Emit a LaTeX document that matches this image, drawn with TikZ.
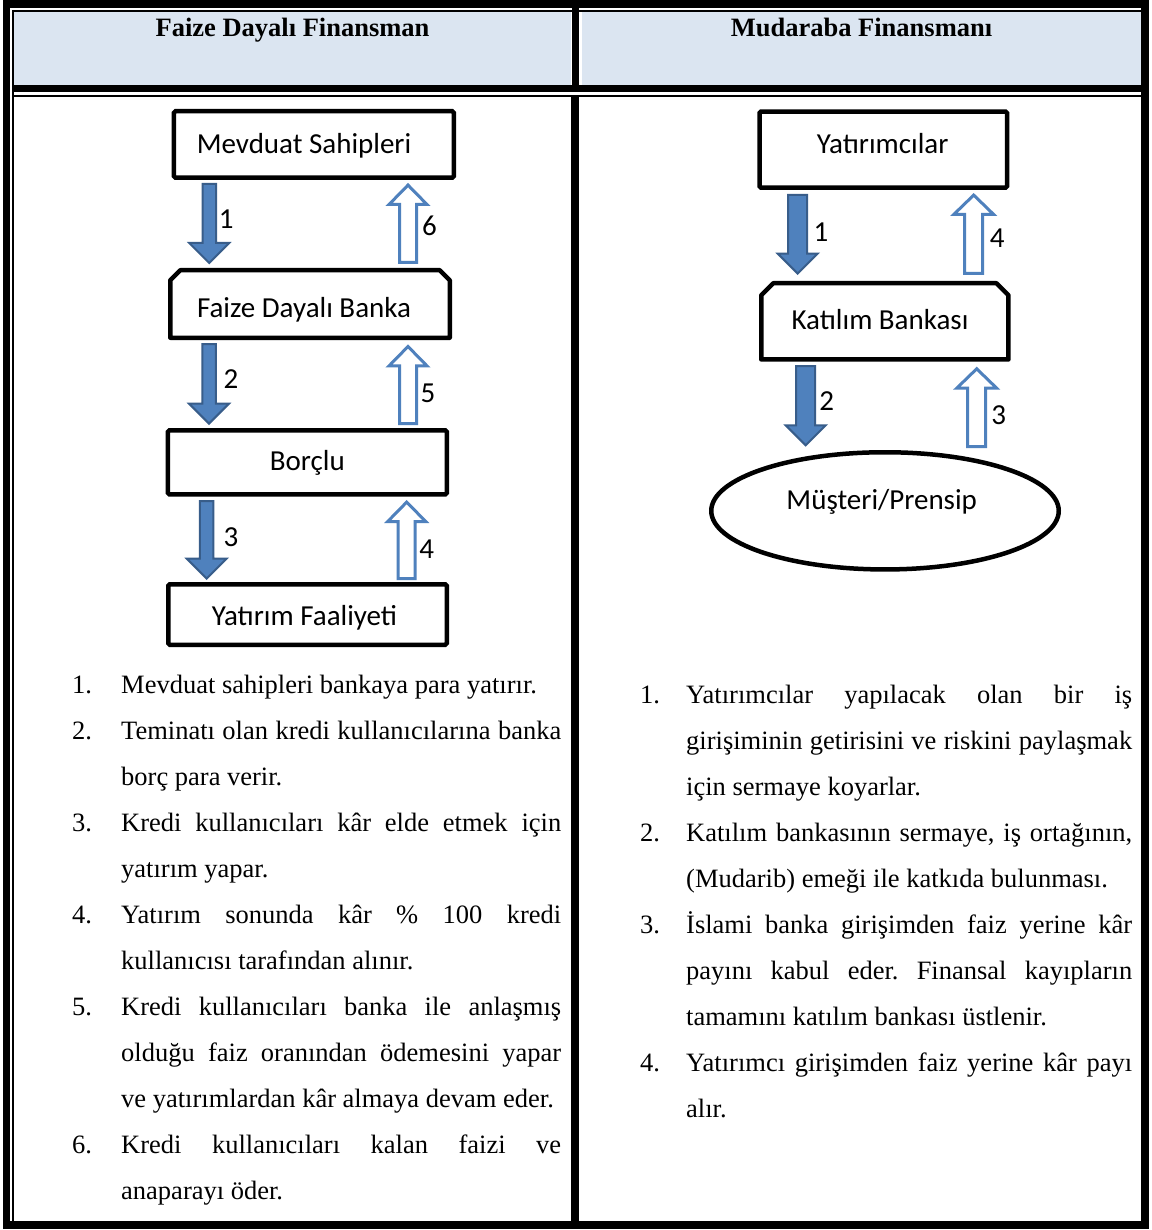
\documentclass[tikz,border=0pt]{standalone}
\usepackage{fontspec}
\setmainfont{Liberation Serif}
\newfontfamily\carlito{Carlito}
\usetikzlibrary{calc,shapes.geometric}
\frenchspacing

\definecolor{hdrblue}{HTML}{DBE5F1}
\definecolor{arrfill}{HTML}{4F81BD}
\definecolor{arredge}{HTML}{385D8A}

% block arrow pointing down: #1 style, #2 x, #3 upper anchor, #4 lower anchor, #5/#6 gaps
\newcommand\arrdown[6]{%
  \path[#1] ($(#2,0 |- #3)+(-\arrSH,#5)$) -- ($(#2,0 |- #3)+(\arrSH,#5)$)
    -- ($(#2,0 |- #4)+(\arrSH,-#6-\arrHL)$) -- ($(#2,0 |- #4)+(\arrHH,-#6-\arrHL)$)
    -- ($(#2,0 |- #4)+(0,-#6)$) -- ($(#2,0 |- #4)+(-\arrHH,-#6-\arrHL)$)
    -- ($(#2,0 |- #4)+(-\arrSH,-#6-\arrHL)$) -- cycle;}
% block arrow pointing up
\newcommand\arrup[6]{%
  \path[#1] ($(#2,0 |- #3)+(0,#5)$) -- ($(#2,0 |- #3)+(\arrHH,#5+\arrHL)$)
    -- ($(#2,0 |- #3)+(\arrSH,#5+\arrHL)$) -- ($(#2,0 |- #4)+(\arrSH,-#6)$)
    -- ($(#2,0 |- #4)+(-\arrSH,-#6)$) -- ($(#2,0 |- #3)+(-\arrSH,#5+\arrHL)$)
    -- ($(#2,0 |- #3)+(-\arrHH,#5+\arrHL)$) -- cycle;}
% outline of a box whose two top corners are cut off: #1 node, #2 cut size
\newcommand\snipbox[2]{%
  \draw[boxline] ($(#1.south west)+(2.25,-2.25)$) -- ($(#1.north west)+(2.25,2.25+#2)$)
    -- ($(#1.north west)+(2.25+#2,2.25)$) -- ($(#1.north east)+(-2.25-#2,2.25)$)
    -- ($(#1.north east)+(-2.25,2.25+#2)$) -- ($(#1.south east)+(-2.25,-2.25)$) -- cycle;}

\begin{document}
\begin{tikzpicture}[x=1pt,y=-1pt,
  box/.style={draw=black, line width=4.5pt, fill=white, inner sep=0pt, rounded corners=1.5pt},
  bank/.style={line width=4.5pt, inner sep=0pt},
  boxline/.style={draw=black, line width=4.5pt, line join=round},
  oval/.style={ellipse, draw=black, line width=4.5pt, fill=white, inner sep=0pt},
  boxtxt/.style={font=\carlito\fontsize{29}{29}\selectfont, inner sep=0pt, text height=18.7pt, text depth=0pt},
  numlbl/.style={boxtxt},
  dnarr/.style={fill=arrfill, draw=arredge, line width=2pt, line join=miter},
  uparr/.style={fill=white, draw=arrfill, line width=3pt, line join=miter},
  hdr/.style={font=\fontsize{26.5}{26.5}\selectfont\bfseries, inner sep=0pt, anchor=base},
  txt/.style={font=\fontsize{26.5}{26.5}\selectfont, inner sep=0pt, anchor=base west},
]
\useasboundingbox (0,0) rectangle (1151,1230);
\fill[white] (0,0) rectangle (1151,1230);

% ---- table frame ----
\fill[hdrblue] (14,12) rectangle (571,85);
\fill[hdrblue] (582,12) rectangle (1141,85);
\fill[black] (3,0) rectangle (1149,8);
\fill[black] (12,10) rectangle (1141,12);
\fill[black] (3,0) rectangle (10,1229);
\fill[black] (12,10) rectangle (14,1221);
\fill[black] (1141,0) rectangle (1149,1229);
\fill[black] (3,1221) rectangle (1149,1229);
\fill[black] (12,85) rectangle (1141,92);
\fill[black] (12,95) rectangle (1141,97);
\fill[black] (572,8) rectangle (579,92);
\fill[black] (571,95) rectangle (579,1221);

% ---- headers ----
\node[hdr] (h1) at (292.5,36.5) {Faize Dayalı Finansman};
\node[hdr] (h2) at (861.5,36.5) {Mudaraba Finansmanı};

% ---- interest-based financing ----
\node[box, minimum width=279.8pt, minimum height=66.5pt,
  label={[boxtxt, xshift=-9.8pt, yshift=0.3pt]center:Mevduat Sahipleri}] (ms) at (313.85,144.5) {};
\node[bank, minimum width=279.5pt, minimum height=67.5pt,
  label={[boxtxt, xshift=-6pt, yshift=-4.3pt]center:Faize Dayalı Banka}] (fb) at (310,304) {};
\snipbox{fb}{10}
\node[box, minimum width=278.8pt, minimum height=64.2pt,
  label={[boxtxt, xshift=0pt, yshift=1.5pt]center:Borçlu}] (bo) at (307.35,462.35) {};
\node[box, minimum width=278.5pt, minimum height=60.5pt,
  label={[boxtxt, xshift=-3pt, yshift=-1.3pt]center:Yatırım Faaliyeti}] (yf) at (307.5,614.5) {};

\def\arrSH{6.75}\def\arrHH{20}\def\arrHL{20}
\arrdown{dnarr}{209.3}{ms.south}{fb.north}{4}{5}
\arrdown{dnarr}{209}{fb.south}{bo.north}{4}{4.4}
\arrdown{dnarr}{206.7}{bo.south}{yf.north}{4.3}{3.4}
\def\arrSH{8.5}\def\arrHH{19}\def\arrHL{19.4}
\arrup{uparr}{408}{ms.south}{fb.north}{5.1}{5.5}
\arrup{uparr}{408}{fb.south}{bo.north}{6.5}{4.5}
\arrup{uparr}{406.7}{bo.south}{yf.north}{5.4}{3.5}

\node[numlbl] (la1) at (226.3,219) {1};
\node[numlbl] (la6) at (429.5,226.5) {6};
\node[numlbl] (la2) at (231,379) {2};
\node[numlbl] (la5) at (428,393) {5};
\node[numlbl] (la3) at (231,536.7) {3};
\node[numlbl] (la4) at (426.7,549) {4};

% ---- mudaraba financing ----
\node[box, minimum width=247.5pt, minimum height=76.2pt,
  label={[boxtxt, xshift=-0.6pt, yshift=5.9pt]center:Yatırımcılar}] (ya) at (883.3,149.65) {};
\node[bank, minimum width=247.2pt, minimum height=76.2pt,
  label={[boxtxt, xshift=-4.85pt, yshift=0.85pt]center:Katılım Bankası}] (kb) at (884.85,321.35) {};
\snipbox{kb}{12}
\node[oval, minimum width=347.5pt, minimum height=117.2pt,
  label={[boxtxt, xshift=-3.3pt, yshift=10.4pt]center:Müşteri/Prensip}] (mp) at (885,510.85) {};

\def\arrSH{9.5}\def\arrHH{20}\def\arrHL{20}
\arrdown{dnarr}{797.7}{ya.south}{kb.north}{5}{7.4}
\arrdown{dnarr}{805.7}{kb.south}{mp.north}{4.3}{4.7}
\def\arrSH{9}\def\arrHH{20}\def\arrHL{19.4}
\arrup{uparr}{973.7}{ya.south}{kb.north}{5.1}{7.5}
\arrup{uparr}{976.7}{kb.south}{mp.north}{7.1}{3.5}

\node[numlbl] (lb1) at (821,231.7) {1};
\node[numlbl] (lb4) at (997.3,238.3) {4};
\node[numlbl] (lb2) at (826.7,401) {2};
\node[numlbl] (lb3) at (998.8,415) {3};

% ---- left list ----
\node[txt] (ln1) at (72,693) {1.};
\node[txt] (lt1a) at (121,693) {Mevduat sahipleri bankaya para yatırır.};
\node[txt] (ln2) at (72,739) {2.};
\node[txt] (lt2a) at (121,739) {\makebox[440pt][s]{Teminatı olan kredi kullanıcılarına banka}};
\node[txt] (lt2b) at (121,785) {borç para verir.};
\node[txt] (ln3) at (72,831) {3.};
\node[txt] (lt3a) at (121,831) {\makebox[440pt][s]{Kredi kullanıcıları kâr elde etmek için}};
\node[txt] (lt3b) at (121,877) {yatırım yapar.};
\node[txt] (ln4) at (72,923) {4.};
\node[txt] (lt4a) at (121,923) {\makebox[440pt][s]{Yatırım sonunda kâr \% 100 kredi}};
\node[txt] (lt4b) at (121,969) {kullanıcısı tarafından alınır.};
\node[txt] (ln5) at (72,1015) {5.};
\node[txt] (lt5a) at (121,1015) {\makebox[440pt][s]{Kredi kullanıcıları banka ile anlaşmış}};
\node[txt] (lt5b) at (121,1061) {\makebox[440pt][s]{olduğu faiz oranından ödemesini yapar}};
\node[txt] (lt5c) at (121,1107) {ve yatırımlardan kâr almaya devam eder.};
\node[txt] (ln6) at (72,1153) {6.};
\node[txt] (lt6a) at (121,1153) {\makebox[440pt][s]{Kredi kullanıcıları kalan faizi ve}};
\node[txt] (lt6b) at (121,1199) {anaparayı öder.};

% ---- right list ----
\node[txt] (rn1) at (640,703) {1.};
\node[txt] (rt1a) at (686,703) {\makebox[446pt][s]{Yatırımcılar yapılacak olan bir iş}};
\node[txt] (rt1b) at (686,749) {\makebox[446pt][s]{girişiminin getirisini ve riskini paylaşmak}};
\node[txt] (rt1c) at (686,795) {için sermaye koyarlar.};
\node[txt] (rn2) at (640,841) {2.};
\node[txt] (rt2a) at (686,841) {\makebox[446pt][s]{Katılım bankasının sermaye, iş ortağının,}};
\node[txt] (rt2b) at (686,887) {(Mudarib) emeği ile katkıda bulunması.};
\node[txt] (rn3) at (640,933) {3.};
\node[txt] (rt3a) at (686,933) {\makebox[446pt][s]{İslami banka girişimden faiz yerine kâr}};
\node[txt] (rt3b) at (686,979) {\makebox[446pt][s]{payını kabul eder. Finansal kayıpların}};
\node[txt] (rt3c) at (686,1025) {tamamını katılım bankası üstlenir.};
\node[txt] (rn4) at (640,1071) {4.};
\node[txt] (rt4a) at (686,1071) {\makebox[446pt][s]{Yatırımcı girişimden faiz yerine kâr payı}};
\node[txt] (rt4b) at (686,1117) {alır.};
\end{tikzpicture}
\end{document}
